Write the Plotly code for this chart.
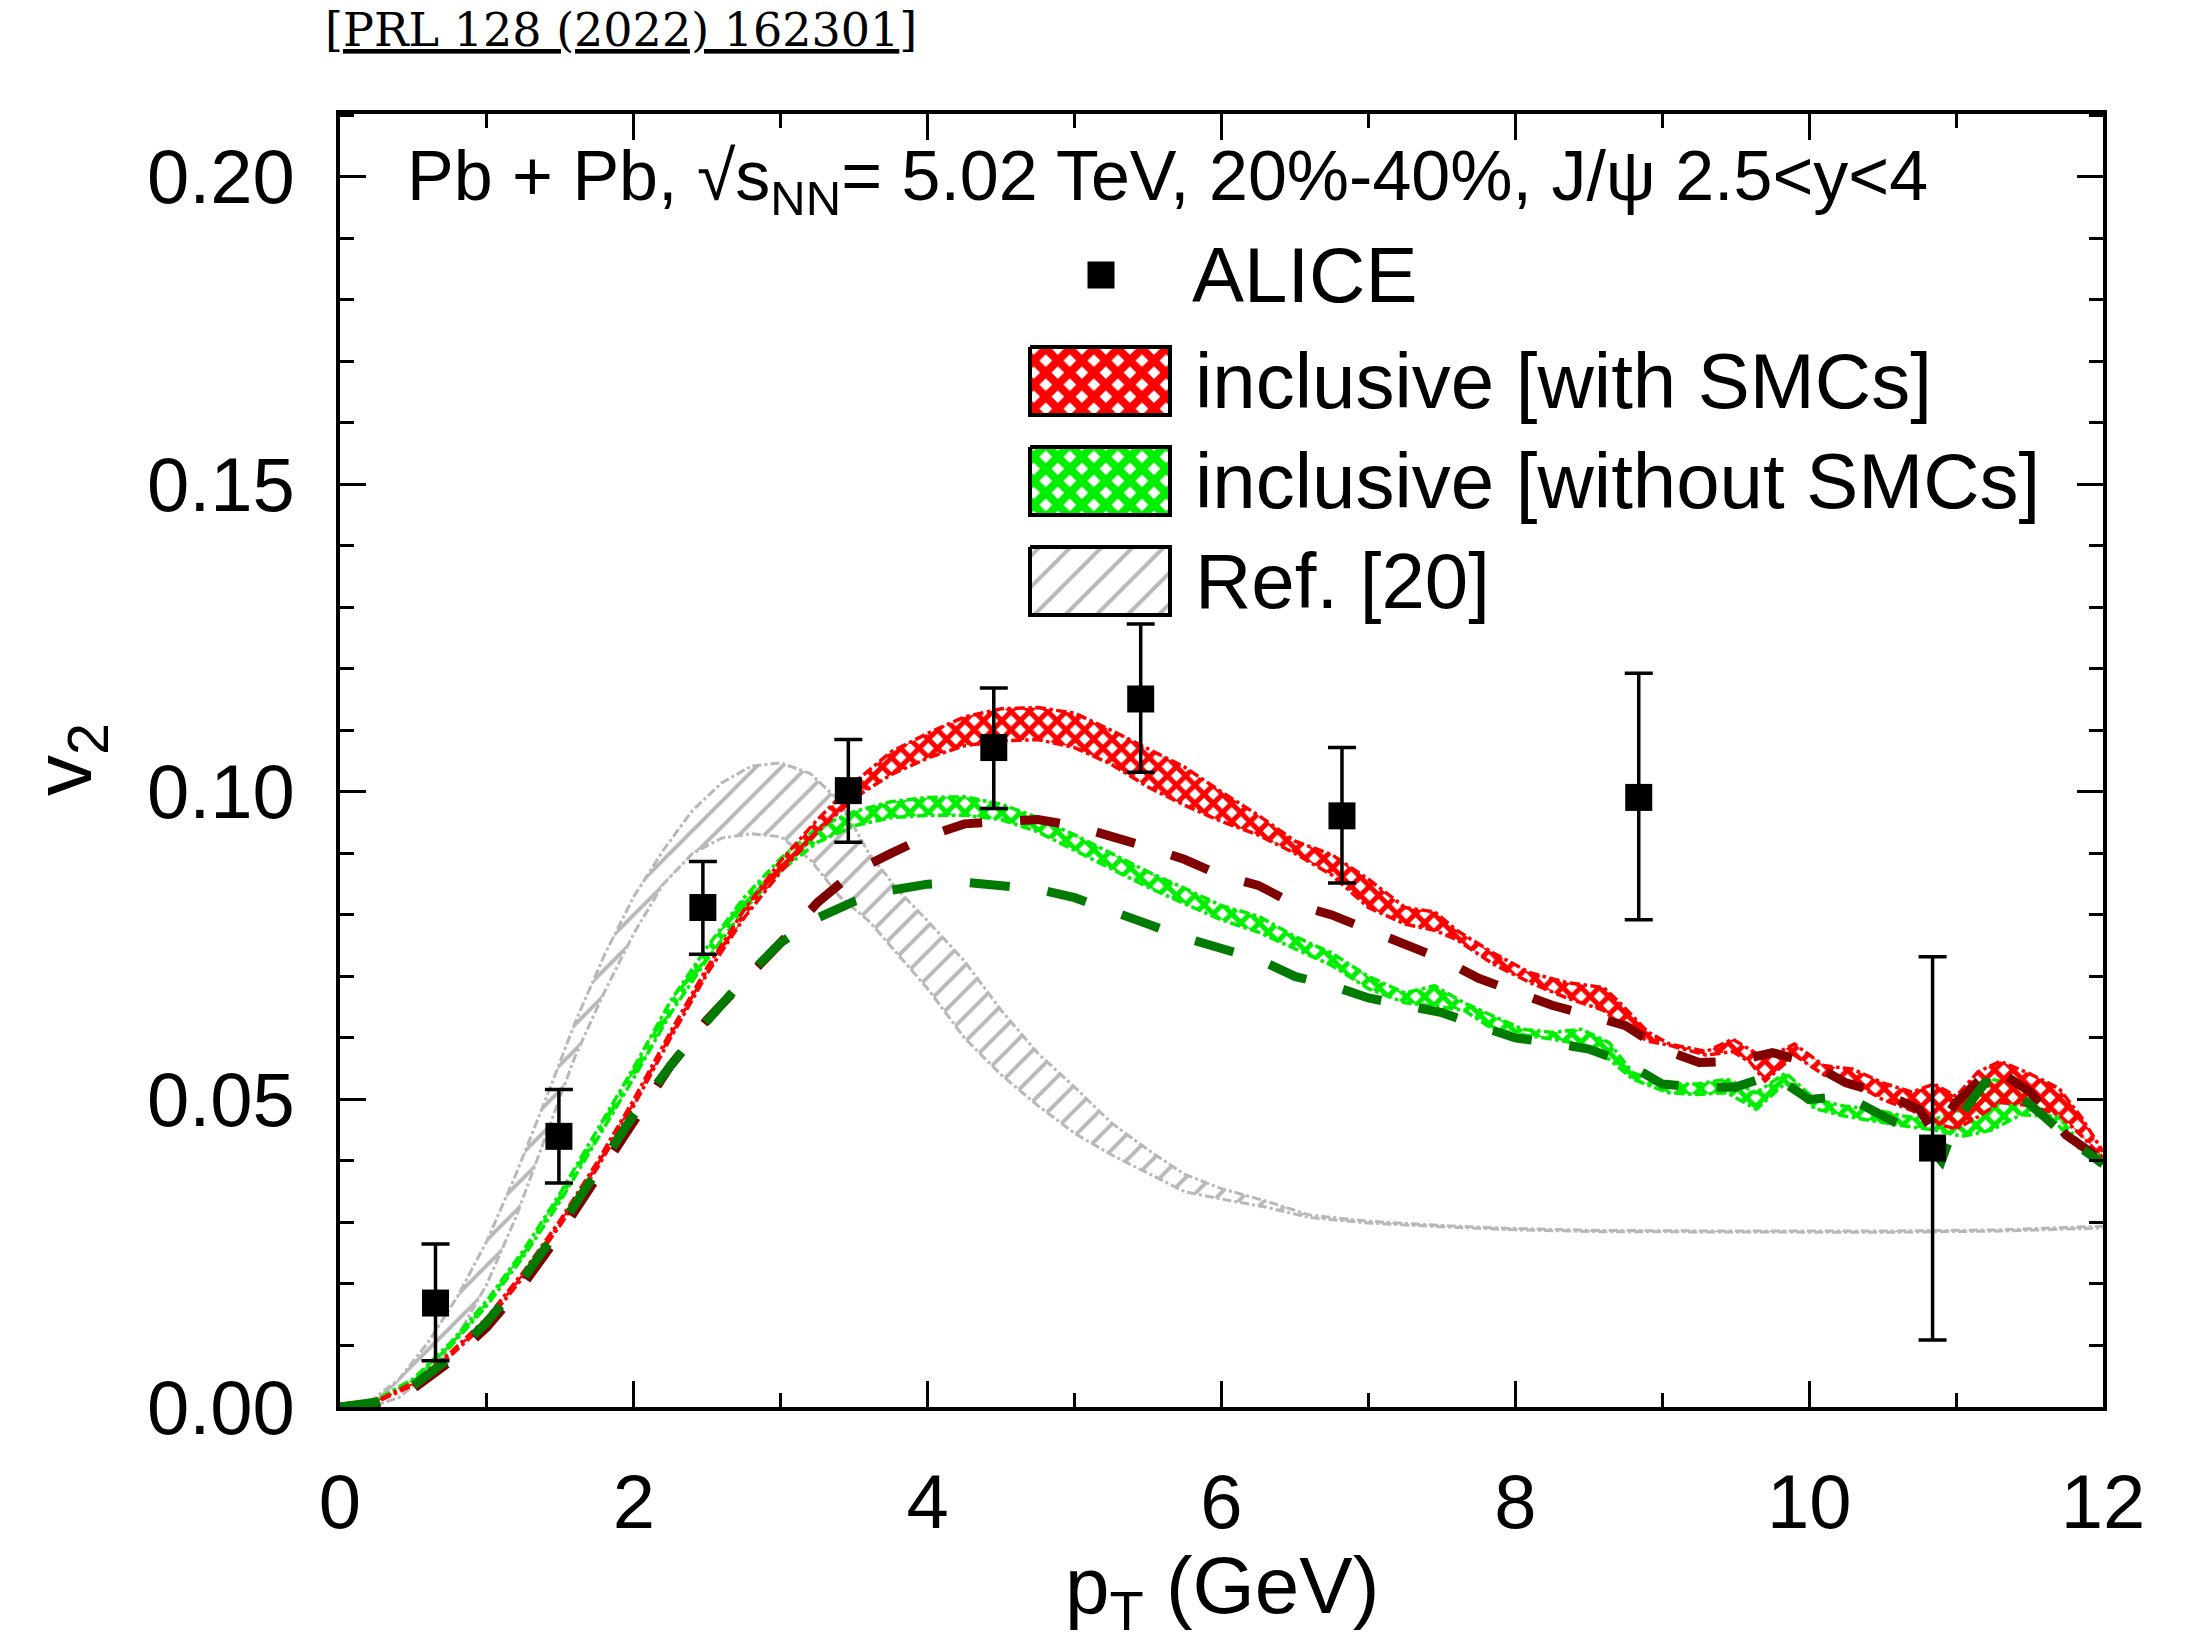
import plotly.graph_objects as go

W, H = 2188, 1643

# ---------------- data ----------------
alice_pt = [0.65, 1.49, 2.47, 3.46, 4.45, 5.45, 6.82, 8.84, 10.84]
alice_v2 = [0.0169, 0.0440, 0.0812, 0.1002, 0.1072, 0.1151, 0.0961, 0.0991, 0.0421]
alice_err_up = [0.0096, 0.0076, 0.0075, 0.0083, 0.0097, 0.0122, 0.0111, 0.0202, 0.0311]
alice_err_dn = [0.0094, 0.0076, 0.0076, 0.0084, 0.0099, 0.0119, 0.0109, 0.0199, 0.0312]

with_pt = [0, 0.25, 0.5, 0.75, 1.0, 1.25, 1.5, 1.75, 2.0, 2.25, 2.5, 2.75, 3.0, 3.25, 3.5,
           3.75, 4.0, 4.25, 4.5, 4.75, 5.0, 5.25, 5.5, 5.75, 6.0, 6.25, 6.5, 6.75, 7.0, 7.25,
           7.45, 7.6, 7.85, 8.1, 8.35, 8.6, 8.7, 8.9, 9.05, 9.3, 9.48, 9.6, 9.7, 9.9, 10.1,
           10.3, 10.5, 10.7, 10.85, 11.0, 11.15, 11.3, 11.5, 11.7, 11.85, 12.0]
with_lo = [0, 0.0008, 0.0036, 0.0083, 0.0138, 0.0212, 0.0296, 0.0388, 0.0490, 0.0600, 0.0705,
           0.0795, 0.0870, 0.0935, 0.0990, 0.1028, 0.1055, 0.1075, 0.1083, 0.1085, 0.1072,
           0.1045, 0.1008, 0.0978, 0.0952, 0.0930, 0.0900, 0.0865, 0.0812, 0.0785, 0.0775,
           0.0760, 0.0720, 0.0690, 0.0665, 0.0645, 0.0625, 0.0595, 0.0588, 0.0572, 0.0578,
           0.0560, 0.0530, 0.0572, 0.0540, 0.0527, 0.0500, 0.0482, 0.0462, 0.0452, 0.0472,
           0.0495, 0.0490, 0.0475, 0.0442, 0.0405]
with_hi = [0, 0.0010, 0.0040, 0.0088, 0.0145, 0.0220, 0.0304, 0.0398, 0.0500, 0.0610, 0.0715,
           0.0808, 0.0888, 0.0955, 0.1015, 0.1065, 0.1095, 0.1122, 0.1135, 0.1137, 0.1128,
           0.1100, 0.1070, 0.1040, 0.1000, 0.0962, 0.0920, 0.0898, 0.0858, 0.0812, 0.0805,
           0.0775, 0.0738, 0.0706, 0.0690, 0.0682, 0.0660, 0.0610, 0.0590, 0.0578, 0.0598,
           0.0580, 0.0566, 0.0590, 0.0555, 0.0549, 0.0527, 0.0512, 0.0525, 0.0505, 0.0545,
           0.0562, 0.0542, 0.0518, 0.0472, 0.0415]

without_pt = [0, 0.25, 0.5, 0.75, 1.0, 1.25, 1.5, 1.75, 2.0, 2.25, 2.5, 2.75, 3.0, 3.25, 3.5,
              3.75, 4.0, 4.25, 4.5, 4.75, 5.0, 5.25, 5.5, 5.75, 6.0, 6.25, 6.5, 6.75, 7.0,
              7.25, 7.45, 7.65, 7.85, 8.05, 8.25, 8.45, 8.64, 8.8, 9.04, 9.24, 9.44, 9.64,
              9.84, 10.04, 10.24, 10.44, 10.64, 10.84, 11.04, 11.24, 11.44, 11.64, 11.84, 12.0]
without_lo = [0, 0.0010, 0.0042, 0.0098, 0.0165, 0.0245, 0.0335, 0.0435, 0.0535, 0.0640,
              0.0728, 0.0808, 0.0872, 0.0918, 0.0945, 0.0958, 0.0962, 0.0962, 0.0955, 0.0935,
              0.0905, 0.0875, 0.0845, 0.0818, 0.0792, 0.0772, 0.0745, 0.0718, 0.0680, 0.0657,
              0.0652, 0.0645, 0.0614, 0.0605, 0.0598, 0.0590, 0.0565, 0.0533, 0.0511, 0.0508,
              0.0511, 0.0484, 0.0527, 0.0485, 0.0473, 0.0465, 0.0457, 0.0451, 0.0440, 0.0450,
              0.0475, 0.0473, 0.0420, 0.0400]
without_hi = [0, 0.0012, 0.0046, 0.0104, 0.0173, 0.0255, 0.0348, 0.0450, 0.0552, 0.0660,
              0.0748, 0.0828, 0.0892, 0.0942, 0.0968, 0.0984, 0.0991, 0.0992, 0.0980, 0.0958,
              0.0930, 0.0900, 0.0870, 0.0843, 0.0815, 0.0798, 0.0765, 0.0738, 0.0700, 0.0673,
              0.0685, 0.0657, 0.0636, 0.0614, 0.0609, 0.0614, 0.0592, 0.0543, 0.0525, 0.0525,
              0.0533, 0.0511, 0.0543, 0.0500, 0.0489, 0.0484, 0.0473, 0.0467, 0.0484, 0.0533,
              0.0522, 0.0489, 0.0430, 0.0405]

ref20_pt = [0.2, 0.4, 0.6, 0.8, 1.0, 1.2, 1.4, 1.6, 1.8, 2.0, 2.2, 2.4, 2.6, 2.8, 3.0, 3.2,
            3.4, 3.6, 3.8, 4.0, 4.25, 4.5, 4.75, 5.0, 5.25, 5.5, 5.75, 6.0, 6.3, 6.6, 7.0,
            7.5, 8.0, 8.6, 9.5, 10.5, 11.3, 12.0]
ref20_hi = [0.0008, 0.0045, 0.0105, 0.0180, 0.0270, 0.0380, 0.0500, 0.0625, 0.0735, 0.0830,
            0.0905, 0.0970, 0.1015, 0.1042, 0.1047, 0.1030, 0.0985, 0.0900, 0.0840, 0.0790,
            0.0725, 0.0645, 0.0575, 0.0520, 0.0462, 0.0418, 0.0378, 0.0355, 0.0335, 0.0312,
            0.0302, 0.0295, 0.0290, 0.0287, 0.0286, 0.0286, 0.0288, 0.0294]
ref20_lo = [0.0, 0.0015, 0.0055, 0.0115, 0.0200, 0.0310, 0.0440, 0.0570, 0.0675, 0.0770,
            0.0850, 0.0900, 0.0925, 0.0932, 0.0927, 0.0890, 0.0830, 0.0790, 0.0735, 0.0680,
            0.0600, 0.0540, 0.0490, 0.0445, 0.0410, 0.0380, 0.0350, 0.0338, 0.0325, 0.0308,
            0.0299, 0.0293, 0.0288, 0.0285, 0.0284, 0.0284, 0.0286, 0.0291]

prompt_pt = [0, 0.25, 0.5, 0.75, 1.0, 1.25, 1.5, 1.75, 2.0, 2.25, 2.5, 2.75, 3.0, 3.25, 3.5,
             3.75, 4.0, 4.25, 4.5, 4.75, 5.0, 5.25, 5.5, 5.75, 6.0, 6.25, 6.5, 6.75, 7.0,
             7.25, 7.5, 7.75, 8.0, 8.25, 8.5, 8.75, 9.0, 9.25, 9.5, 9.75, 10.0, 10.25, 10.5,
             10.75, 10.85, 11.0, 11.25, 11.5, 11.75, 12.0]
darkred_v2 = [0, 0.0006, 0.0030, 0.0074, 0.0130, 0.0200, 0.0283, 0.0372, 0.0460, 0.0555,
              0.0630, 0.0690, 0.0755, 0.0820, 0.0870, 0.0900, 0.0928, 0.0948, 0.0953, 0.0955,
              0.0945, 0.0928, 0.0910, 0.0890, 0.0864, 0.0848, 0.0817, 0.0800, 0.0775, 0.0750,
              0.0728, 0.0697, 0.0675, 0.0653, 0.0637, 0.0620, 0.0582, 0.0560, 0.0562, 0.0576,
              0.0560, 0.0527, 0.0510, 0.0484, 0.0446, 0.0495, 0.0552, 0.0513, 0.0442, 0.0400]
darkgreen_pt = [0, 0.25, 0.5, 0.75, 1.0, 1.25, 1.5, 1.75, 2.0, 2.25, 2.5, 2.75, 3.0, 3.25,
                3.5, 3.75, 4.0, 4.25, 4.5, 4.75, 5.0, 5.25, 5.5, 5.75, 6.0, 6.25, 6.5, 6.75,
                7.0, 7.25, 7.5, 7.75, 8.0, 8.25, 8.5, 8.75, 9.0, 9.25, 9.5, 9.75, 10.0,
                10.25, 10.5, 10.75, 10.9, 11.0, 11.2, 11.4, 11.6, 11.8, 12.0]
darkgreen_v2 = [0, 0.0008, 0.0035, 0.0080, 0.0138, 0.0210, 0.0293, 0.0385, 0.0475, 0.0555,
                0.0628, 0.0695, 0.0755, 0.0795, 0.0822, 0.0840, 0.0850, 0.0853, 0.0849,
                0.0842, 0.0828, 0.0805, 0.0785, 0.0763, 0.0747, 0.0728, 0.0700, 0.0685,
                0.0665, 0.0652, 0.0641, 0.0620, 0.0600, 0.0592, 0.0582, 0.0560, 0.0525,
                0.0520, 0.0520, 0.0540, 0.0500, 0.0505, 0.0472, 0.0442, 0.0400, 0.0465,
                0.0528, 0.0512, 0.0472, 0.0430, 0.0395]

x_ticks = [0, 2, 4, 6, 8, 10, 12]
y_ticks = [0.00, 0.05, 0.10, 0.15, 0.20]
y_tick_labels = ["0.00", "0.05", "0.10", "0.15", "0.20"]

legend_labels = ["ALICE", "inclusive [with SMCs]", "inclusive [without SMCs]", "Ref. [20]"]

# ---------------- styling ----------------
SANS = "Liberation Sans, Arial, sans-serif"
RED = "#ff0000"
GREEN = "#00ee00"
GRAY = "#b8b8b8"
DARKRED = "#800000"
DARKGREEN = "#007a00"

fig = go.Figure()


def add_band(x, lo, hi, color, shape, size, solidity, edgewidth, edgedash):
    fig.add_trace(go.Scatter(
        x=list(x) + list(x)[::-1], y=list(hi) + list(lo)[::-1],
        mode="lines", fill="toself", line=dict(width=0, color=color),
        fillcolor="rgba(0,0,0,0)",
        fillpattern=dict(shape=shape, fgcolor=color, bgcolor="rgba(0,0,0,0)",
                         fgopacity=1, size=size, solidity=solidity),
        hoverinfo="skip", showlegend=False))
    for yy in (lo, hi):
        fig.add_trace(go.Scatter(x=x, y=yy, mode="lines",
                                 line=dict(color=color, width=edgewidth, dash=edgedash),
                                 hoverinfo="skip", showlegend=False))


add_band(ref20_pt, ref20_lo, ref20_hi, GRAY, "/", 18, 0.22, 3, "dashdot")
add_band(without_pt, without_lo, without_hi, GREEN, "x", 13, 0.62, 3.5, "dashdot")
add_band(with_pt, with_lo, with_hi, RED, "x", 13, 0.62, 3.5, "dashdot")

fig.add_trace(go.Scatter(x=prompt_pt, y=darkred_v2, mode="lines",
                         line=dict(color=DARKRED, width=9, dash="40px,38px"),
                         showlegend=False))
fig.add_trace(go.Scatter(x=darkgreen_pt, y=darkgreen_v2, mode="lines",
                         line=dict(color=DARKGREEN, width=9, dash="40px,38px"),
                         showlegend=False))

fig.add_trace(go.Scatter(
    x=alice_pt, y=alice_v2, mode="markers",
    marker=dict(symbol="square", size=27, color="black"),
    error_y=dict(type="data", symmetric=False, array=alice_err_up, arrayminus=alice_err_dn,
                 color="black", thickness=3.5, width=14),
    showlegend=False))

# ---------------- manual legend (pixel overlay axes) ----------------
leg_x0, leg_x1 = 1030, 1170
rows = [381, 481, 581]
box_h = 68
swatches = [(RED, "x", 17, 0.72), (GREEN, "x", 17, 0.72), (GRAY, "/", 22, 0.18)]
for yc, (col, shp, sz, sol) in zip(rows, swatches):
    y0, y1 = yc - box_h / 2, yc + box_h / 2
    fig.add_trace(go.Scatter(
        x=[leg_x0, leg_x1, leg_x1, leg_x0, leg_x0], y=[y0, y0, y1, y1, y0],
        xaxis="x2", yaxis="y2", mode="lines", fill="toself",
        fillcolor="rgba(0,0,0,0)",
        fillpattern=dict(shape=shp, fgcolor=col, bgcolor="white", fgopacity=1,
                         size=sz, solidity=sol),
        line=dict(color="black", width=4), hoverinfo="skip", showlegend=False))
fig.add_trace(go.Scatter(x=[1101], y=[275], xaxis="x2", yaxis="y2", mode="markers",
                         marker=dict(symbol="square", size=27, color="black"),
                         hoverinfo="skip", showlegend=False))

annotations = []
for lab, yc, xl in zip(legend_labels, [275] + rows, [1190, 1193, 1193, 1193]):
    annotations.append(dict(x=xl, y=yc, xref="x2", yref="y2", text=lab, showarrow=False,
                            xanchor="left", yanchor="middle",
                            font=dict(family=SANS, size=78, color="black")))

annotations.append(dict(
    x=405, y=181, xref="x2", yref="y2",
    text="Pb + Pb, √s<sub>NN</sub>= 5.02 TeV, 20%-40%, J/ψ 2.5&lt;y&lt;4",
    showarrow=False, xanchor="left", yanchor="middle",
    font=dict(family=SANS, size=70, color="black")))

annotations.append(dict(
    x=323, y=30, xref="x2", yref="y2",
    text="[<u>PRL 128 (2022) 162301</u>]",
    showarrow=False, xanchor="left", yanchor="middle",
    font=dict(family="DejaVu Serif, serif", size=46, color="black")))

annotations.append(dict(
    x=1222, y=1591, xref="x2", yref="y2", text="p<sub>T</sub> (GeV)", showarrow=False,
    xanchor="center", yanchor="middle", font=dict(family=SANS, size=80, color="black")))
annotations.append(dict(
    x=68, y=760, xref="x2", yref="y2", text="v<sub>2</sub>", showarrow=False,
    textangle=-90, xanchor="center", yanchor="middle",
    font=dict(family=SANS, size=82, color="black")))

x_dom = [340 / W, 2103 / W]
y_dom = [1 - 1407 / H, 1 - 114 / H]

axis_common = dict(showline=True, linewidth=4, linecolor="black", mirror="allticks",
                   ticks="inside", ticklen=26, tickwidth=3, tickcolor="black",
                   showgrid=False, zeroline=False, automargin=False,
                   tickfont=dict(family=SANS, size=76, color="black"))

fig.update_layout(
    width=W, height=H,
    margin=dict(l=0, r=0, t=0, b=0, pad=0, autoexpand=False),
    paper_bgcolor="white", plot_bgcolor="rgba(0,0,0,0)",
    showlegend=False,
    xaxis=dict(domain=x_dom, range=[0, 12], tickvals=x_ticks, ticklabelstandoff=26,
               minor=dict(dtick=1, tick0=0, ticks="inside", ticklen=14, tickwidth=3,
                          tickcolor="black", showgrid=False),
               anchor="y", **axis_common),
    yaxis=dict(domain=y_dom, range=[0, 0.2102], tickvals=y_ticks, ticktext=y_tick_labels,
               ticklabelstandoff=26,
               minor=dict(dtick=0.01, tick0=0, ticks="inside", ticklen=14, tickwidth=3,
                          tickcolor="black", showgrid=False),
               anchor="x", **axis_common),
    xaxis2=dict(domain=[0, 1], range=[0, W], visible=False, anchor="y2", fixedrange=True,
                automargin=False),
    yaxis2=dict(domain=[0, 1], range=[H, 0], visible=False, anchor="x2", fixedrange=True,
                automargin=False),
    annotations=annotations,
)

fig.write_html("out.html")
